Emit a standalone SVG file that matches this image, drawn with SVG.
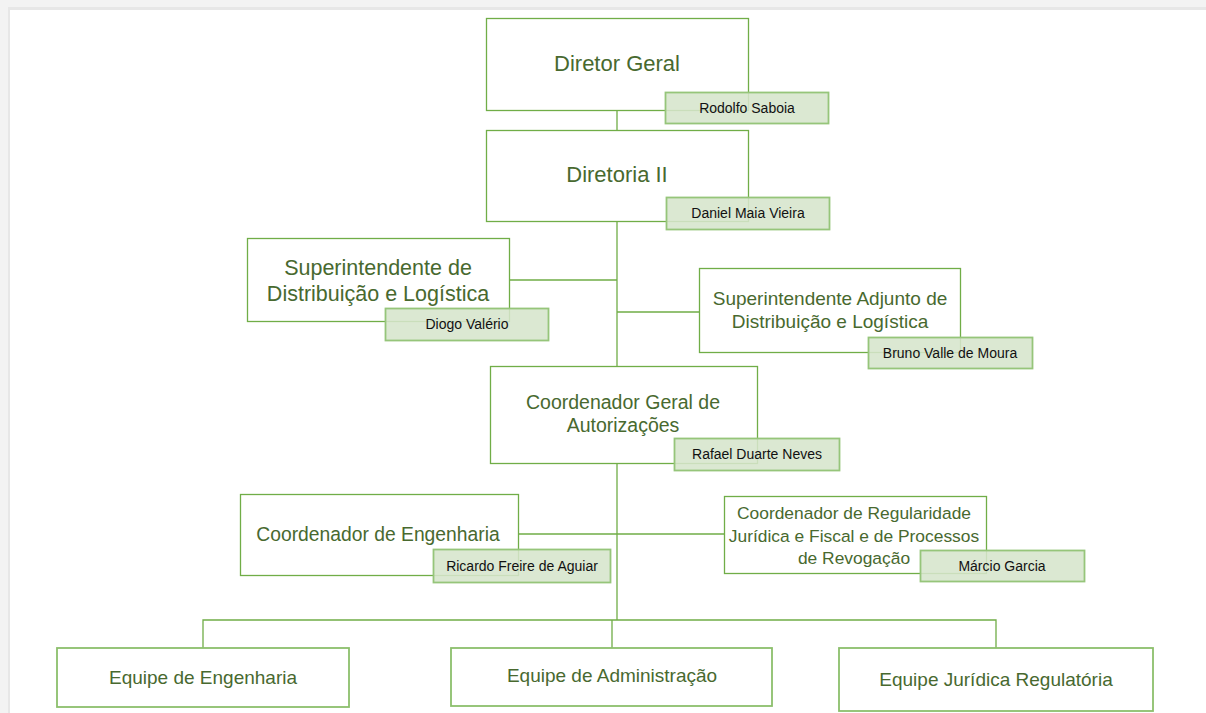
<svg xmlns="http://www.w3.org/2000/svg" width="1206" height="713" viewBox="0 0 1206 713">
<style>
.box{fill:#ffffff;stroke:#70ad47;stroke-width:1.3}
.team{fill:#ffffff;stroke:#8cbf6c;stroke-width:1.8}
.name{fill:#d6e5cc;fill-opacity:0.88;stroke:#96c57a;stroke-width:1.8}
.t{font-family:"Liberation Sans",Arial,sans-serif;fill:#48692f;text-anchor:middle}
.n{font-family:"Liberation Sans",Arial,sans-serif;fill:#111111;font-size:14px;text-anchor:middle}
.c{stroke:#70ad47;stroke-width:1.3;fill:none}
</style>
<rect x="0" y="0" width="1206" height="713" fill="#f3f3f3"/>
<rect x="8" y="7" width="1198" height="706" fill="#e7e7e7"/>
<rect x="10" y="10" width="1196" height="703" fill="#ffffff"/>
<g id="connectors">
<path class="c" d="M617 110V131M617 221V620M509 280H617M617 312H699M518 534H724"/>
<path class="c" d="M203 648V620H996V648M612 620V648"/>
</g>
<g id="diretor-geral">
<rect class="box" x="486.5" y="18.5" width="262" height="92"/>
<text class="t" x="617" y="71" font-size="22">Diretor Geral</text>
<rect class="name" x="665.5" y="92.5" width="163" height="31"/>
<text class="n" x="747" y="113">Rodolfo Saboia</text>
</g>
<g id="diretoria-ii">
<rect class="box" x="486.5" y="130.5" width="262" height="91"/>
<text class="t" x="617" y="182" font-size="22">Diretoria II</text>
<rect class="name" x="666.5" y="197.5" width="163" height="32"/>
<text class="n" x="748" y="218">Daniel Maia Vieira</text>
</g>
<g id="superintendente">
<rect class="box" x="247.5" y="238.5" width="262" height="83"/>
<text class="t" x="378" y="275" font-size="21.5">Superintendente de</text>
<text class="t" x="378" y="301" font-size="21.5">Distribuição e Logística</text>
<rect class="name" x="385.5" y="308.5" width="163" height="32"/>
<text class="n" x="467" y="329">Diogo Valério</text>
</g>
<g id="superintendente-adjunto">
<rect class="box" x="699.5" y="268.5" width="261" height="84"/>
<text class="t" x="830" y="305" font-size="19">Superintendente Adjunto de</text>
<text class="t" x="830" y="328" font-size="19">Distribuição e Logística</text>
<rect class="name" x="868.5" y="337.5" width="164" height="31"/>
<text class="n" x="950" y="358">Bruno Valle de Moura</text>
</g>
<g id="coordenador-geral">
<rect class="box" x="490.5" y="366.5" width="267" height="97"/>
<text class="t" x="623" y="409" font-size="19.5">Coordenador Geral de</text>
<text class="t" x="623" y="432" font-size="19.5">Autorizações</text>
<rect class="name" x="674.5" y="438.5" width="165" height="32"/>
<text class="n" x="757" y="459">Rafael Duarte Neves</text>
</g>
<g id="coordenador-engenharia">
<rect class="box" x="240.5" y="494.5" width="278" height="81"/>
<text class="t" x="378" y="541" font-size="19.3">Coordenador de Engenharia</text>
<rect class="name" x="433.5" y="549.5" width="177" height="33"/>
<text class="n" x="522" y="571">Ricardo Freire de Aguiar</text>
</g>
<g id="coordenador-regularidade">
<rect class="box" x="724.5" y="496.5" width="262" height="77"/>
<text class="t" x="854" y="519" font-size="17.4">Coordenador de Regularidade</text>
<text class="t" x="854" y="542" font-size="17.4">Jurídica e Fiscal e de Processos</text>
<text class="t" x="854" y="564" font-size="17.4">de Revogação</text>
<rect class="name" x="920.5" y="550.5" width="164" height="31"/>
<text class="n" x="1002" y="571">Márcio Garcia</text>
</g>
<g id="equipe-engenharia">
<rect class="team" x="57" y="648" width="292" height="59"/>
<text class="t" x="203" y="684" font-size="19">Equipe de Engenharia</text>
</g>
<g id="equipe-administracao">
<rect class="team" x="451" y="648" width="321" height="58"/>
<text class="t" x="612" y="682" font-size="19">Equipe de Administração</text>
</g>
<g id="equipe-juridica">
<rect class="team" x="839" y="648" width="314" height="63"/>
<text class="t" x="996" y="686" font-size="19">Equipe Jurídica Regulatória</text>
</g>
</svg>
